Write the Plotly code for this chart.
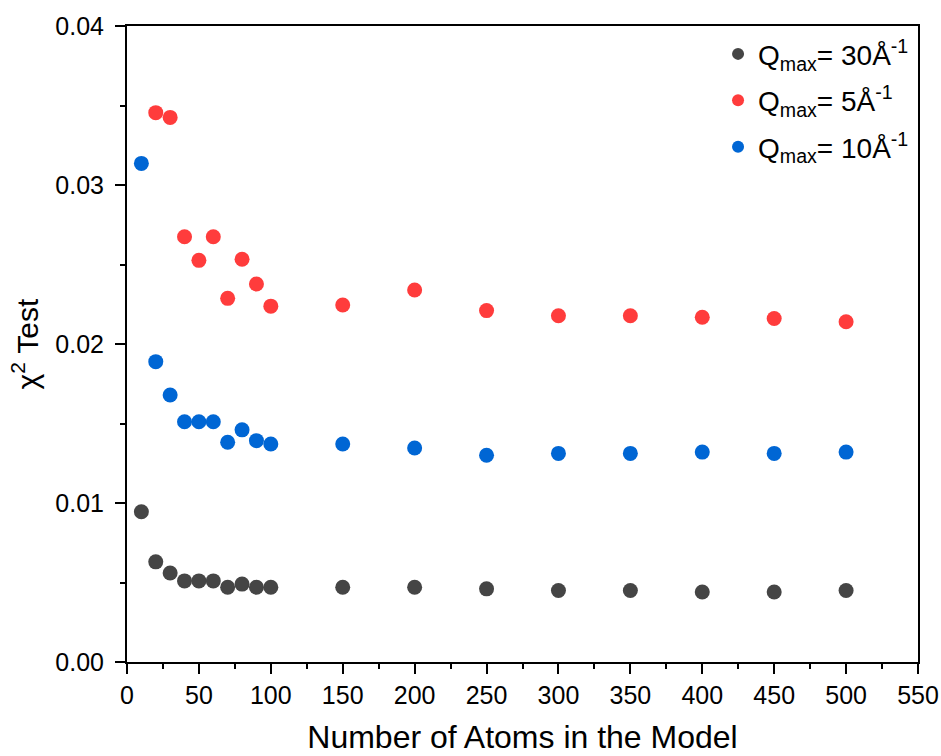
import plotly.graph_objects as go

atoms = [10, 20, 30, 40, 50, 60, 70, 80, 90, 100, 150, 200, 250, 300, 350, 400, 450, 500]

q30 = [0.00945, 0.0063, 0.0056, 0.0051, 0.0051, 0.0051, 0.0047, 0.0049, 0.0047, 0.0047,
       0.0047, 0.0047, 0.0046, 0.0045, 0.0045, 0.0044, 0.0044, 0.0045]
q5_x = atoms[1:]
q5 = [0.03455, 0.03425, 0.02675, 0.02526, 0.02675, 0.02287, 0.02533, 0.02377, 0.02238,
      0.02245, 0.0234, 0.0221, 0.02178, 0.02178, 0.02168, 0.0216, 0.0214]
q10 = [0.03136, 0.01889, 0.01679, 0.01511, 0.01511, 0.01511, 0.01382, 0.0146, 0.01392, 0.01371,
       0.01371, 0.01346, 0.0130, 0.01312, 0.01312, 0.0132, 0.01312, 0.0132]

names = ["Q<sub>max</sub>= 30Å<sup>-1</sup>", "Q<sub>max</sub>= 5Å<sup>-1</sup>", "Q<sub>max</sub>= 10Å<sup>-1</sup>"]
colors = ["#454545", "#ff3c3c", "#0066d4"]

fig = go.Figure()
for i, (xs, ys, nm, c) in enumerate([(atoms, q30, names[0], colors[0]), (q5_x, q5, names[1], colors[1]), (atoms, q10, names[2], colors[2])]):
    fig.add_trace(go.Scatter(x=xs, y=ys, mode="markers", name=nm, legendgroup=f"g{i}",
                             marker=dict(size=15, color=c, line=dict(width=0))))

font = "Liberation Sans, Arial, sans-serif"
fig.update_layout(
    width=941, height=756,
    margin=dict(l=127, r=23, t=26, b=94),
    plot_bgcolor="white", paper_bgcolor="white",
    font=dict(family=font, size=25, color="black"),
    showlegend=True,
    legend=dict(x=0.995, y=0.995, xanchor="right", yanchor="top",
                font=dict(size=28), bgcolor="rgba(0,0,0,0)", itemsizing="constant",
                tracegroupgap=7),
    xaxis=dict(range=[0, 550], tickvals=list(range(0, 551, 50)), automargin=False,
               showline=True, linecolor="black", linewidth=2, mirror=True,
               ticks="outside", ticklen=10, tickwidth=2, tickcolor="black",
               minor=dict(tickvals=list(range(25, 550, 50)), ticks="outside", ticklen=5, tickwidth=2, tickcolor="black"),
               showgrid=False, zeroline=False,
               title=dict(text="Number of Atoms in the Model", font=dict(size=32), standoff=18),
               tickfont=dict(size=25)),
    yaxis=dict(range=[0, 0.04], tickvals=[0, 0.01, 0.02, 0.03, 0.04], automargin=False,
               ticktext=["0.00", "0.01", "0.02", "0.03", "0.04"],
               showline=True, linecolor="black", linewidth=2, mirror=True,
               ticks="outside", ticklen=10, tickwidth=2, tickcolor="black",
               ticklabelstandoff=6,
               minor=dict(tickvals=[0.005, 0.015, 0.025, 0.035], ticks="outside", ticklen=5, tickwidth=2, tickcolor="black"),
               showgrid=False, zeroline=False,
               title=dict(text="χ<sup>2</sup> Test", font=dict(size=30), standoff=8),
               tickfont=dict(size=25)),
)

fig.write_html("out.html")
